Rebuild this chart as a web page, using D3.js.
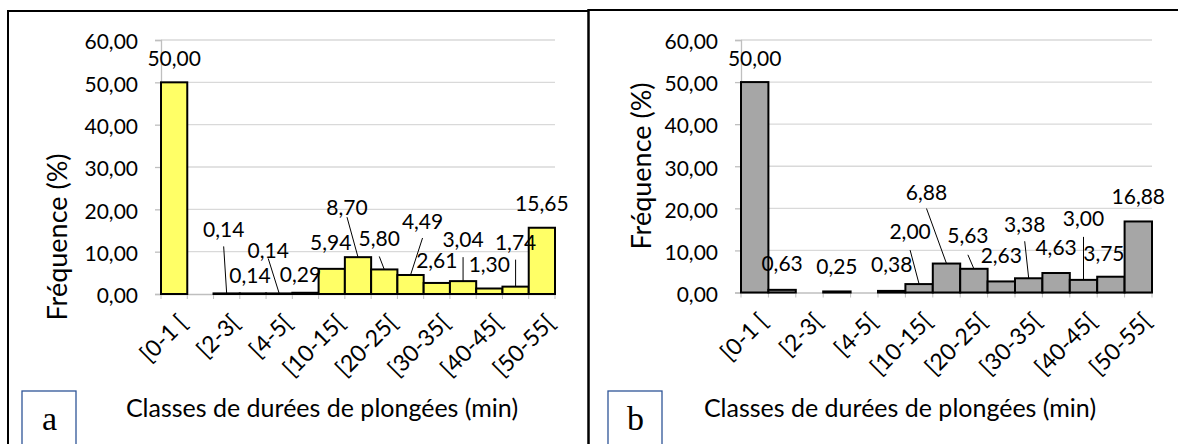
<!DOCTYPE html>
<html><head><meta charset="utf-8">
<script src="https://cdn.jsdelivr.net/npm/d3@7"></script>
<style>
html,body{margin:0;padding:0;background:#fff;}
text{fill:#000;}
</style></head>
<body>
<svg id="chart" width="1178" height="444" font-family="Lato, 'Open Sans', sans-serif"></svg>
<script>
const categories = ["[0-1 [","[1-2[","[2-3[","[3-4[","[4-5[","[5-10[","[10-15[","[15-20[","[20-25[","[25-30[","[30-35[","[35-40[","[40-45[","[45-50[","[50-55["];
const shownCategories = ["[0-1 [","[2-3[","[4-5[","[10-15[","[20-25[","[30-35[","[40-45[","[50-55["];
const valuesA = [50.00,null,0.14,0.14,0.14,0.29,5.94,8.70,5.80,4.49,2.61,3.04,1.30,1.74,15.65];
const valuesB = [50.00,0.63,null,0.25,null,0.38,2.00,6.88,5.63,2.63,3.38,4.63,3.00,3.75,16.88];
const yTicks = [0,10,20,30,40,50,60];
const panelLetters = ["a","b"];
const xTitle = "Classes de durées de plongées (min)";
const yTitle = "Fréquence (%)";

// label layout (pixel offsets from default position; third = leader start)
const labelOffA = [[0,0],null,[-3,-40,17],[-3,6],[-11,-19,8],[-5,6],[-1,-2],[-11,-26,10],[-5,-7,18],[12,-30,17],[0,1],[0,-18,18],[0,0],[0,-20,17],[0,0]];
const labelOffB = [[0,0],[0,-2],null,[0,-1],null,[0,-2],[-9,-29,19],[-20,-47,16],[-6,-9,19],[0,-2],[-4,-30,17],[0,-2],[0,-37,18],[-7,1],[0,-1]];

const svg = d3.select("#chart");
const fmt = v => d3.format(".2f")(v).replace(".", ",");
const FS = 21;

// panel frames
svg.append("line").attr("x1",8).attr("x2",8).attr("y1",10).attr("y2",444).attr("stroke","#000").attr("stroke-width",2);
svg.append("line").attr("x1",7).attr("x2",589).attr("y1",11).attr("y2",11).attr("stroke","#000").attr("stroke-width",2);
svg.append("line").attr("x1",588.5).attr("x2",588.5).attr("y1",9).attr("y2",444).attr("stroke","#000").attr("stroke-width",2.5);
svg.append("line").attr("x1",588).attr("x2",1178).attr("y1",10).attr("y2",10).attr("stroke","#000").attr("stroke-width",2);

const panels = [
  {values: valuesA, offs: labelOffA, x0:161, x1:555, y0:294, y1:40, fill:"#ffff66",
   yTitleX:58, yTitleY:237, xTitleX:322, box:[22,391], letterX:49.5},
  {values: valuesB, offs: labelOffB, x0:741, x1:1152, y0:292.5, y1:40, fill:"#a6a6a6",
   yTitleX:642, yTitleY:166, xTitleX:900, box:[608,391], letterX:635.5}
];

panels.forEach((p, pi) => {
  const g = svg.append("g");
  const x = d3.scaleBand().domain(categories).range([p.x0, p.x1]).padding(0);
  const y = d3.scaleLinear().domain([0,60]).range([p.y0, p.y1]);

  // grid
  g.selectAll(".grid").data(yTicks.filter(t=>t>0)).join("line")
    .attr("x1",p.x0).attr("x2",p.x1).attr("y1",d=>y(d)).attr("y2",d=>y(d))
    .attr("stroke","#d9d9d9").attr("stroke-width",1.3);

  // y axis
  const yAxis = d3.axisLeft(y).tickValues(yTicks).tickSize(6).tickPadding(17).tickFormat(fmt);
  const ya = g.append("g").attr("transform",`translate(${p.x0},0)`).call(yAxis);
  ya.attr("font-family",null).attr("font-size",null);
  ya.select(".domain").attr("stroke","#bfbfbf").attr("stroke-width",1.3);
  ya.selectAll(".tick line").attr("stroke","#bfbfbf").attr("stroke-width",1.3);
  ya.selectAll(".tick text").attr("font-size",FS).attr("fill","#000").attr("dy","0.42em");

  // x axis
  const xa = g.append("g").attr("transform",`translate(0,${p.y0})`)
    .call(d3.axisBottom(x).tickSize(0).tickFormat(""));
  xa.select(".domain").attr("stroke","#bfbfbf").attr("stroke-width",1.3);
  xa.selectAll(".tick").remove();
  // boundary ticks
  g.selectAll(".xb").data(categories.concat(["__end"])).join("line")
    .attr("x1",(d,i)=>p.x0 + i*x.bandwidth()).attr("x2",(d,i)=>p.x0 + i*x.bandwidth())
    .attr("y1",p.y0).attr("y2",p.y0+5).attr("stroke","#bfbfbf").attr("stroke-width",1);

  // bars
  const data = categories.map((c,i)=>({c, v:p.values[i], off:p.offs[i]}));
  g.selectAll(".bar").data(data.filter(d=>d.v!==null)).join("rect")
    .attr("x",d=>x(d.c)).attr("width",x.bandwidth())
    .attr("y",d=>y(d.v)).attr("height",d=>y(0)-y(d.v))
    .attr("fill",p.fill).attr("stroke","#000").attr("stroke-width",2);

  // labels + leaders
  data.filter(d=>d.v!==null).forEach(d=>{
    const cx = x(d.c) + x.bandwidth()/2;
    const top = y(d.v);
    const lx = cx + d.off[0];
    const ly = top - 24 + d.off[1];
    if (d.off.length > 2) {
      g.append("line").attr("x1",lx).attr("y1",ly + d.off[2]).attr("x2",cx).attr("y2",top)
        .attr("stroke","#000").attr("stroke-width",1);
    }
    g.append("text").attr("x",lx).attr("y",ly).attr("dy","0.36em")
      .attr("text-anchor","middle").attr("font-size",FS).text(fmt(d.v));
  });

  // category labels
  g.selectAll(".cl").data(shownCategories).join("text")
    .attr("transform",d=>`translate(${x(d)+x.bandwidth()/2+3},${p.y0+19}) rotate(-45)`)
    .attr("text-anchor","end").attr("dy","0.7em").attr("font-size",23).text(d=>d);

  // axis titles
  g.append("text").attr("x",p.xTitleX).attr("y",417).attr("text-anchor","middle")
    .attr("font-size",25).text(xTitle);
  g.append("text").attr("transform",`translate(${p.yTitleX+9},${p.yTitleY}) rotate(-90)`)
    .attr("text-anchor","middle").attr("font-size",27).text(yTitle);

  // letter box
  g.append("rect").attr("x",p.box[0]).attr("y",p.box[1]).attr("width",54).attr("height",70)
    .attr("fill","#fff").attr("stroke","#2f5597").attr("stroke-width",1.3);
  g.append("text").attr("x",p.letterX).attr("y",430).attr("text-anchor","middle")
    .attr("font-family","'Liberation Serif','DejaVu Serif',serif").attr("font-size",34).text(panelLetters[pi]);
});
</script>
</body></html>
